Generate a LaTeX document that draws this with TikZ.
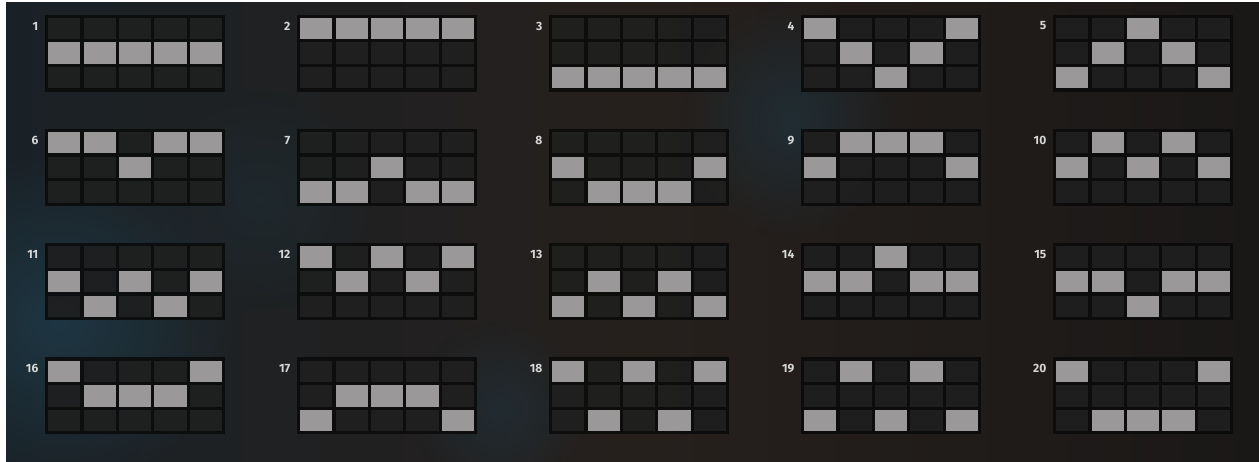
\documentclass[tikz,border=0pt]{standalone}
\usepackage{fontspec}
\setmainfont{Fira Sans}
\usetikzlibrary{fadings}
\tikzfading[name=softglow, inner color=transparent!0, outer color=transparent!100]
\definecolor{bgL}{HTML}{1A2126}
\definecolor{bgM}{HTML}{26201D}
\definecolor{bgR}{HTML}{1A1817}
\definecolor{glow}{HTML}{1E3A48}
\definecolor{litc}{HTML}{9A9898}
\definecolor{gline}{HTML}{0B0B0B}
\definecolor{lblc}{HTML}{D6D6D6}
\tikzset{
  gridback/.style={fill=gline, fill opacity=0.9},
  darkcell/.style={fill=white, fill opacity=0.075},
  litcell/.style={fill=litc},
  lbl/.style={text=lblc, font=\fontsize{12}{12}\selectfont\bfseries, inner sep=0pt, anchor=east},
}
\begin{document}
\begin{tikzpicture}[x=1pt,y=-1pt]
\useasboundingbox (0,0) rectangle (1259,461);
\fill[white] (0,0) rectangle (1259,461);
\begin{scope}
\clip (6,2) rectangle (1259,461);
\shade[left color=bgL, right color=bgM] (6,2) rectangle (640,461);
\shade[left color=bgM, right color=bgR] (640,2) rectangle (1259,461);
\fill[glow, opacity=0.85, path fading=softglow] (60,320) ellipse (180 and 170);
\fill[glow, opacity=0.55, path fading=softglow] (790,120) ellipse (110 and 120);
\fill[glow, opacity=0.45, path fading=softglow] (500,410) ellipse (90 and 90);
\fill[glow, opacity=0.3, path fading=softglow] (260,200) ellipse (120 and 110);
\end{scope}
\foreach \n/\a/\b/\c/\d/\e in {
  1/2/2/2/2/2, 2/1/1/1/1/1, 3/3/3/3/3/3, 4/1/2/3/2/1, 5/3/2/1/2/3,
  6/1/1/2/1/1, 7/3/3/2/3/3, 8/2/3/3/3/2, 9/2/1/1/1/2, 10/2/1/2/1/2,
  11/2/3/2/3/2, 12/1/2/1/2/1, 13/3/2/3/2/3, 14/2/2/1/2/2, 15/2/2/3/2/2,
  16/1/2/2/2/1, 17/3/2/2/2/3, 18/1/3/1/3/1, 19/3/1/3/1/3, 20/1/3/3/3/1}{
  \pgfmathtruncatemacro\col{mod(\n-1,5)}
  \pgfmathtruncatemacro\row{(\n-1)/5}
  \pgfmathsetmacro\gx{46.5+252*\col}
  \pgfmathsetmacro\gy{16+114.3*\row}
  \fill[gridback] (\gx-1.5,\gy-1.5) rectangle (\gx+178.5,\gy+75.5);
  \foreach \cc in {0,...,4}{
    \foreach \rr in {0,1,2}{
      \fill[darkcell] (\gx+\cc*35.4+1.6,\gy+\rr*24.67+1.6) rectangle (\gx+\cc*35.4+35.4-1.6,\gy+\rr*24.67+24.67-1.6);
    }
  }
  \foreach \cc/\rr in {0/\a,1/\b,2/\c,3/\d,4/\e}{
    \fill[litcell] (\gx+\cc*35.4+1.6,\gy+\rr*24.67-24.67+1.6) rectangle (\gx+\cc*35.4+35.4-1.6,\gy+\rr*24.67-1.6);
  }
  \node[lbl] (L\n) at (\gx-8,\gy+10) {\n};
}
\end{tikzpicture}
\end{document}
